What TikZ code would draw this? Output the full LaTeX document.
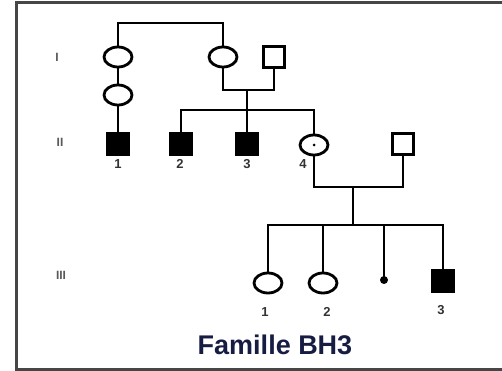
\documentclass[tikz,border=0pt]{standalone}
\usepackage{fontspec}
\setmainfont{Liberation Sans}
\usetikzlibrary{shapes.geometric}
\definecolor{titleblue}{RGB}{22,28,66}
\definecolor{framegray}{RGB}{70,70,70}

\begin{document}
\begin{tikzpicture}
  [x=1pt, y=-1pt, line width=2.8pt,
   fem/.style={draw, ellipse, minimum width=28pt, minimum height=20pt, inner sep=0pt},
   male/.style={draw, rectangle, minimum size=21pt, inner sep=0pt},
   sick/.style={male, fill=black},
   num/.style={font=\fontsize{13}{13}\selectfont\bfseries, text=black!80},
   gen/.style={font=\fontsize{12}{12}\selectfont\bfseries, text=black!65}]
  \useasboundingbox (0,0) rectangle (502,371);
  \draw [framegray, line width=3pt] (502,3) -- (16,3) -- (16,369) -- (502,369);

  % generations
  \node [gen] (g1) at (57,57) {I};
  \node [gen] (g2) at (60,142) {II};
  \node [gen] (g3) at (61,275) {III};

  % generation I
  \node [fem] (i1) at (118,57) {};
  \node [fem] (i1b) at (118,95) {};
  \node [fem] (i2) at (223,57) {};
  \node [male] (i3) at (274,57) {};

  % generation II
  \node [sick] (ii1) at (118,144) {};
  \node [sick] (ii2) at (181,144) {};
  \node [sick] (ii3) at (247,144) {};
  \node [fem] (ii4) at (314,145) {};
  \node [male] (ii5) at (403,144) {};
  \fill (ii4.center) circle (1.5pt);

  \node [num] (n1) at (118,164) {1};
  \node [num] (n2) at (180,164) {2};
  \node [num] (n3) at (247,164) {3};
  \node [num] (n4) at (303,164) {4};

  % generation III
  \node [fem] (iii1) at (268,283) {};
  \node [fem] (iii2) at (323,283) {};
  \node [circle, fill, inner sep=0pt, minimum size=8pt] (iii3) at (384,280) {};
  \node [sick] (iii4) at (443,281) {};

  \node [num] (m1) at (265,312) {1};
  \node [num] (m2) at (327,312) {2};
  \node [num] (m3) at (441,310) {3};

  \node [font=\fontsize{27}{27}\selectfont\bfseries, text=titleblue] (title) at (275,345) {Famille BH3};

  % lines
  \coordinate (top) at (170,23);
  \coordinate (mar1) at (247,90);
  \coordinate (sib1) at (247,110);
  \coordinate (mar2) at (353,187);
  \coordinate (sib2) at (353,225);

  \draw [] (i1.north) |- (top) -| (i2.north);
  \draw [] (i1.south) -- (i1b.north);
  \draw [] (i1b.south) -- (ii1.north);
  \draw [] (i2.south) |- (mar1) -| (i3.south);
  \draw [] (mar1) -- (ii3.north);
  \draw [] (ii2.north) |- (sib1) -| (ii4.north);
  \draw [] (ii4.south) |- (mar2) -| (ii5.south);
  \draw [] (mar2) -- (sib2);
  \draw [] (iii1.north) |- (sib2) -| (iii4.north);
  \draw [] (iii2.north) |- (sib2);
  \draw [] (iii3.center) |- (sib2);
\end{tikzpicture}
\end{document}
